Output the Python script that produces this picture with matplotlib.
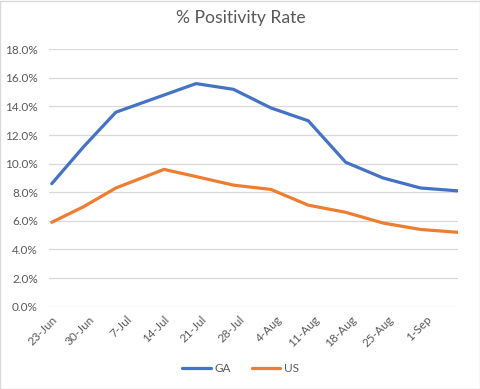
import numpy as np
import pandas as pd
import matplotlib.pyplot as plt
import matplotlib.dates as mdates
from matplotlib.ticker import FuncFormatter

plt.rcParams['font.family'] = ['Lato', 'DejaVu Sans']

# data
dates = pd.to_datetime(['2020-06-23', '2020-06-29', '2020-07-05', '2020-07-14',
                        '2020-07-20', '2020-07-27', '2020-08-03', '2020-08-10',
                        '2020-08-17', '2020-08-24', '2020-08-31', '2020-09-07'])
ga = [8.6, 11.2, 13.6, 14.8, 15.6, 15.2, 13.9, 13.0, 10.1, 9.0, 8.3, 8.1]
us = [5.9, 7.0, 8.3, 9.6, 9.1, 8.5, 8.2, 7.1, 6.6, 5.85, 5.4, 5.2]
tick_dates = pd.date_range('2020-06-23', '2020-09-01', freq='7D')

grey = '#595959'

fig = plt.figure(figsize=(4.81, 3.89), dpi=100)
ax = fig.add_axes([0.102, 0.2116, 0.850, 0.6617])

ax.plot(dates, ga, color='#4472C4', lw=2.3, label='GA', solid_capstyle='round')
ax.plot(dates, us, color='#ED7D31', lw=2.3, label='US', solid_capstyle='round')

ax.set_ylim(0, 18)
ax.set_yticks(np.arange(0, 18.1, 2))
ax.yaxis.set_major_formatter(FuncFormatter(lambda v, p: f'{v:.1f}%'))
ax.set_xlim(dates[0] - pd.Timedelta(days=0.5), dates[-1])
ax.set_xticks(tick_dates)
ax.xaxis.set_major_formatter(mdates.DateFormatter('%-d-%b'))

ax.grid(axis='y', color='#D9D9D9', lw=0.9)
ax.set_axisbelow(True)
for s in ax.spines.values():
    s.set_visible(False)
ax.tick_params(axis='both', length=0, colors=grey, labelsize=8.5)
ax.tick_params(axis='y', pad=8)
ax.tick_params(axis='x', pad=5)
for lab in ax.get_xticklabels():
    lab.set_rotation(45)
    lab.set_ha('right')
    lab.set_va('top')
    lab.set_rotation_mode('anchor')

fig.text(0.5, 0.955, '% Positivity Rate', ha='center', va='center',
         fontsize=12.6, color=grey)

fig.legend(loc='center', bbox_to_anchor=(0.5, 0.052), ncol=2, frameon=False,
           fontsize=8.5, labelcolor=grey, handlelength=2.4, columnspacing=1.8,
           handletextpad=0.3)

# chart border
fig.patches.append(plt.Rectangle((0.001, 0.001), 0.997, 0.997, transform=fig.transFigure,
                                 fill=False, edgecolor='#D9D9D9', lw=1))

fig.savefig('out.png', dpi=100)
